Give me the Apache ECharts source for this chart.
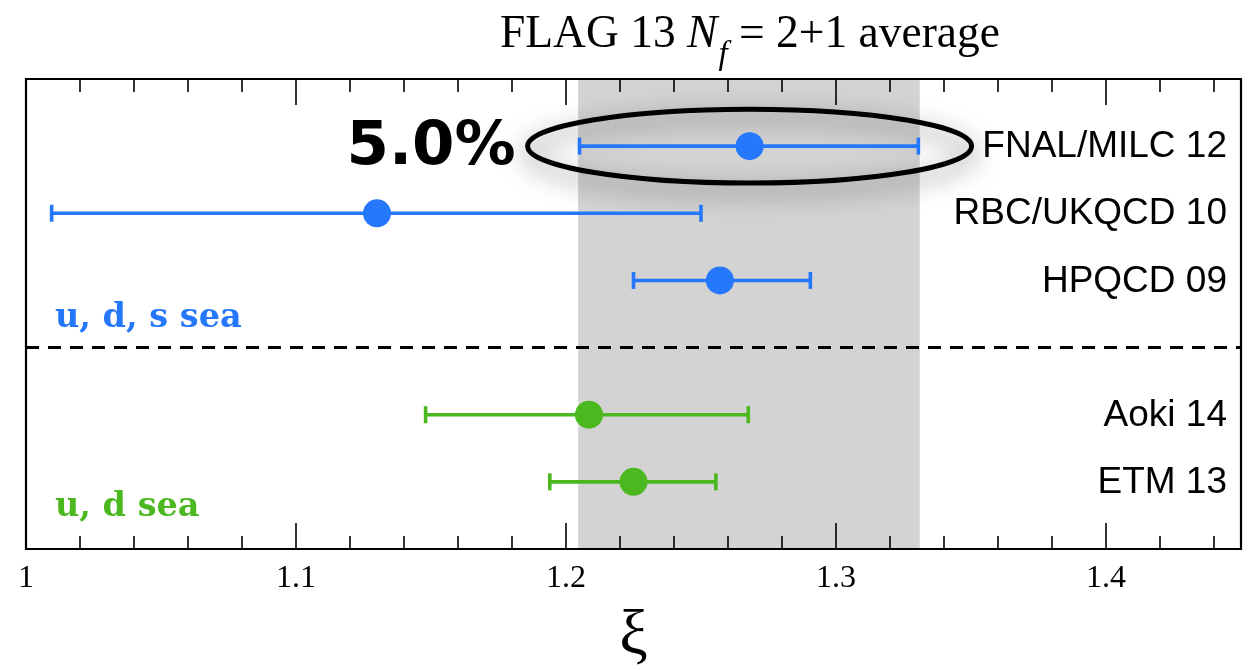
<!DOCTYPE html>
<html>
<head>
<meta charset="utf-8">
<script src="https://cdn.jsdelivr.net/npm/echarts@6/dist/echarts.min.js"></script>
<style>
html,body{margin:0;padding:0;background:#fff}
#main{width:1253px;height:671px}
</style>
</head>
<body>
<div id="main"></div>
<script>
// results, top to bottom
const names = ['FNAL/MILC 12', 'RBC/UKQCD 10', 'HPQCD 09', 'Aoki 14', 'ETM 13'];
const rows = [6, 5, 4, 2, 1];
const central = [1.268, 1.130, 1.257, 1.2085, 1.225];
const lower = [1.205, 1.0095, 1.225, 1.148, 1.194];
const upper = [1.3305, 1.250, 1.2905, 1.2675, 1.2555];
const sea = ['uds', 'uds', 'uds', 'ud', 'ud'];

// FLAG average band and the line between the two groups
const flagBand = [1.2045, 1.331];
const separatorRow = 3;

const majorTicks = [1, 1.1, 1.2, 1.3, 1.4];
const majorLabels = ['1', '1.1', '1.2', '1.3', '1.4'];
const minorTicks = [1.02, 1.04, 1.06, 1.08, 1.12, 1.14, 1.16, 1.18, 1.22, 1.24, 1.26, 1.28,
  1.32, 1.34, 1.36, 1.38, 1.42, 1.44];

const seaNames = ['u, d, s sea', 'u, d sea'];
const colors = {uds: '#2577fc', ud: '#4ab81e'};

const X_MIN = 1, X_MAX = 1.45;

const points = names.map((n, i) => [rows[i], lower[i], central[i], upper[i], i]);

function tickAxis(pos, values, len, labels) {
  return {
    type: 'value', min: X_MIN, max: X_MAX, position: pos, z: 6,
    axisLine: {show: false},
    splitLine: {show: false},
    axisTick: {show: true, inside: true, length: len, customValues: values,
      lineStyle: {color: '#000', width: 1.6}},
    axisLabel: labels ? {
      customValues: values, margin: 14, color: '#000',
      fontFamily: 'Liberation Serif', fontSize: 32,
      formatter: v => majorLabels[majorTicks.findIndex(t => Math.abs(t - v) < 1e-9)]
    } : {show: false}
  };
}

const xMain = tickAxis('bottom', majorTicks, 26, true);
xMain.name = 'ξ';
xMain.nameLocation = 'middle';
xMain.nameGap = 56;
xMain.nameTextStyle = {fontFamily: 'Liberation Serif', fontSize: 64, color: '#000'};

// title pieces: "FLAG 13 N_f = 2+1 average"
const titleFont = 'Liberation Serif';
const ctx = document.createElement('canvas').getContext('2d');
function textWidth(t, size, italic) {
  ctx.font = (italic ? 'italic ' : '') + size + 'px "' + titleFont + '"';
  return ctx.measureText(t).width;
}
const titleParts = [
  {t: 'FLAG 13 ', size: 45.5, italic: false, dy: 0},
  {t: 'N', size: 45.5, italic: true, dy: 0},
  {t: 'f', size: 33, italic: true, dy: 27},
  {t: ' = 2+1 average', size: 45.5, italic: false, dy: 0}
];
const titleEls = [];
let tx = 500;
titleParts.forEach(p => {
  titleEls.push({type: 'text', left: tx, top: 12 + p.dy,
    style: {text: p.t, fill: '#000', font: (p.italic ? 'italic ' : '') + p.size + 'px "' + titleFont + '"'}});
  tx += textWidth(p.t, p.size, p.italic) + (p.t === 'N' ? 1 : 0);
});

const chart = echarts.init(document.getElementById('main'));
chart.setOption({
  backgroundColor: '#fff',
  animation: false,
  graphic: titleEls,
  grid: {left: 26, right: 12, top: 79, bottom: 122, show: true, borderColor: '#000', borderWidth: 2.2,
    backgroundColor: 'transparent', z: 6, outerBoundsMode: 'none', containLabel: false},
  xAxis: [
    xMain,
    tickAxis('bottom', minorTicks, 13, false),
    tickAxis('top', majorTicks, 26, false),
    tickAxis('top', minorTicks, 13, false)
  ],
  yAxis: {type: 'value', min: 0, max: 7, show: false},
  series: [
    {
      // FLAG average band
      type: 'custom', z: 1, silent: true,
      data: [[flagBand[0], flagBand[1]]],
      renderItem(params, api) {
        const a = api.coord([api.value(0), 7]);
        const b = api.coord([api.value(1), 0]);
        return {type: 'rect', shape: {x: a[0], y: a[1], width: b[0] - a[0], height: b[1] - a[1]},
          style: {fill: '#d3d3d3'}};
      },
      markLine: {
        silent: true, symbol: 'none', label: {show: false},
        lineStyle: {color: '#000', width: 2.8, type: [13, 9]},
        data: [{yAxis: separatorRow}]
      }
    },
    {
      // ellipse round the FNAL/MILC result
      type: 'custom', z: 3, silent: true,
      data: [[central[0], rows[0]]],
      renderItem(params, api) {
        const c = api.coord([api.value(0), api.value(1)]);
        const l = api.coord([api.value(0) - 0.0822, api.value(1) + 0.55]);
        const rx = c[0] - l[0], ry = c[1] - l[1];
        return {type: 'group', children: [
          {type: 'ellipse', shape: {cx: c[0], cy: c[1], rx: rx, ry: ry},
            style: {fill: null, stroke: '#000', lineWidth: 5,
              shadowBlur: 24, shadowColor: 'rgba(0,0,0,0.6)', shadowOffsetY: 8}},
          {type: 'text', style: {text: '5.0%', x: l[0] - 12, y: c[1] + 2, align: 'right', verticalAlign: 'middle',
            fontFamily: 'DejaVu Sans', fontWeight: 'bold', fontSize: 61, fill: '#000'}}
        ]};
      }
    },
    {
      // results with error bars
      type: 'custom', z: 4,
      data: points,
      renderItem(params, api) {
        const i = api.value(4);
        const col = colors[sea[i]];
        const y = api.value(0);
        const lo = api.coord([api.value(1), y]);
        const mid = api.coord([api.value(2), y]);
        const hi = api.coord([api.value(3), y]);
        const right = api.coord([X_MAX, y]);
        const ls = {stroke: col, lineWidth: 3.6};
        return {type: 'group', children: [
          {type: 'line', shape: {x1: lo[0], y1: lo[1], x2: hi[0], y2: hi[1]}, style: ls},
          {type: 'line', shape: {x1: lo[0], y1: lo[1] - 8.5, x2: lo[0], y2: lo[1] + 8.5}, style: ls},
          {type: 'line', shape: {x1: hi[0], y1: hi[1] - 8.5, x2: hi[0], y2: hi[1] + 8.5}, style: ls},
          {type: 'circle', shape: {cx: mid[0], cy: mid[1], r: 14}, style: {fill: col}},
          {type: 'text', style: {text: names[i], x: right[0] - 14, y: right[1] + 1, align: 'right', verticalAlign: 'middle',
            fontFamily: 'Liberation Sans', fontSize: 37, fill: '#000'}}
        ]};
      }
    },
    {
      // group labels
      type: 'custom', z: 4, silent: true,
      data: [[1.0107, 3.43, 0], [1.0107, 0.62, 1]],
      renderItem(params, api) {
        const k = api.value(2);
        const p = api.coord([api.value(0), api.value(1)]);
        return {type: 'text', style: {text: seaNames[k], x: p[0], y: p[1], align: 'left', verticalAlign: 'middle',
          fontFamily: 'DejaVu Serif', fontWeight: 'bold', fontSize: 33.5,
          fill: k === 0 ? colors.uds : colors.ud}};
      }
    }
  ]
});
</script>
</body>
</html>
